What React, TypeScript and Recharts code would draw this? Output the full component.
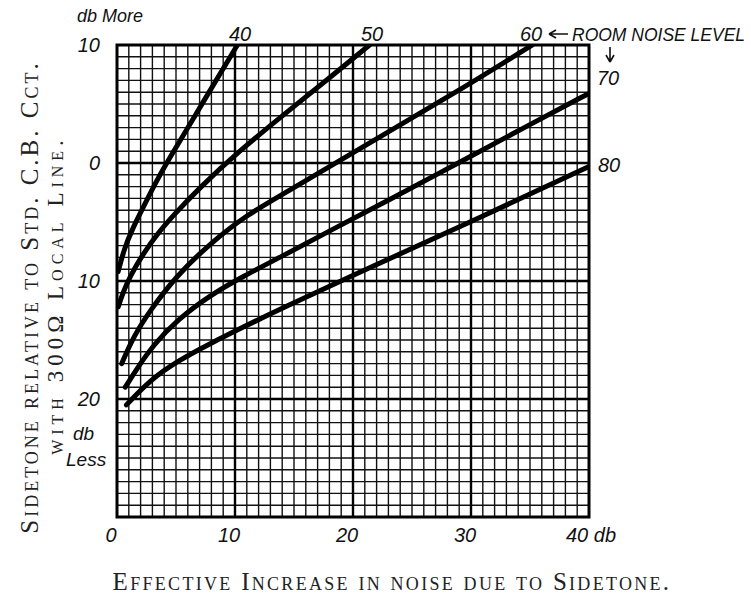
import { LineChart, Line, XAxis, YAxis, CartesianGrid, ReferenceLine, ReferenceArea } from 'recharts';

// grid every 1 db, labels only on the tens
const xGrid = Array.from({ length: 41 }, (_, i) => i);
const yGrid = Array.from({ length: 41 }, (_, i) => i - 30);
const xLabelled = [0, 10, 20, 30, 40];
const yLabelled = [10, 0, -10, -20];
const xMajor = [10, 20, 30];
const yMajor = [0, -10, -20];

// room noise level curves (x = effective increase, y = sidetone rel. std.)
const noise40 = [
  { x: 0.1, y: -9.2 }, { x: 0.6, y: -7.3 }, { x: 1.3, y: -5.6 }, { x: 2.2, y: -3.8 },
  { x: 3.2, y: -1.8 }, { x: 4.2, y: 0 }, { x: 5.6, y: 2.3 }, { x: 7.2, y: 5 },
  { x: 8.7, y: 7.5 }, { x: 10.2, y: 10 },
];
const noise50 = [
  { x: 0.1, y: -12.2 }, { x: 0.5, y: -11 }, { x: 1.1, y: -9.6 }, { x: 2.2, y: -7.7 },
  { x: 3.5, y: -5.9 }, { x: 4.8, y: -4.4 }, { x: 7, y: -2.1 }, { x: 10.1, y: 0.8 },
  { x: 14.5, y: 4.4 }, { x: 18, y: 7.2 }, { x: 21.4, y: 10 },
];
const noise60 = [
  { x: 0.4, y: -17 }, { x: 1.4, y: -14.7 }, { x: 2.8, y: -12.5 }, { x: 5, y: -9.6 },
  { x: 7.9, y: -6.8 }, { x: 11, y: -4.4 }, { x: 13.8, y: -2.8 }, { x: 21.4, y: 1.7 },
  { x: 29.1, y: 6.2 }, { x: 35.2, y: 10 },
];
const noise70 = [
  { x: 0.7, y: -19 }, { x: 1.7, y: -17.4 }, { x: 3.1, y: -15.4 }, { x: 5.1, y: -13.3 },
  { x: 7.9, y: -11.2 }, { x: 10.7, y: -9.6 }, { x: 13.8, y: -8 }, { x: 18.5, y: -5.5 },
  { x: 23.3, y: -3 }, { x: 29.1, y: 0.1 }, { x: 34.5, y: 3 }, { x: 40, y: 5.9 },
];
const noise80 = [
  { x: 0.8, y: -20.5 }, { x: 2.8, y: -18.4 }, { x: 5.1, y: -16.8 }, { x: 7.9, y: -15.3 },
  { x: 10.7, y: -13.9 }, { x: 13.8, y: -12.4 }, { x: 20, y: -9.5 }, { x: 29.1, y: -5.4 },
  { x: 40, y: -0.3 },
];
const curves = [noise40, noise50, noise60, noise70, noise80];

const hand = { fontFamily: '"Liberation Sans", Arial, sans-serif', fontStyle: 'italic' as const, fill: '#111' };
const serifCaps = { fontFamily: '"Liberation Serif", "Times New Roman", serif', fontVariant: 'small-caps' as const, fill: '#222' };

// eslint-disable-next-line @typescript-eslint/no-explicit-any
function XTick({ x, y, payload }: any) {
  const v = payload.value;
  if (!xLabelled.includes(v)) return <g />;
  if (v === 40) {
    return <text x={x - 23} y={y + 17} fontSize={20} {...hand}>40 db</text>;
  }
  return <text x={x - 6} y={y + 17} fontSize={20} textAnchor="middle" {...hand}>{v}</text>;
}

// eslint-disable-next-line @typescript-eslint/no-explicit-any
function YTick({ x, y, payload }: any) {
  const v = payload.value;
  if (!yLabelled.includes(v)) return <g />;
  return (
    <text x={x - 9} y={y + 7} fontSize={20} textAnchor="end" {...hand}>{Math.abs(v)}</text>
  );
}

export default function App() {
  return (
    <div style={{ position: 'absolute', left: 0, top: 0, width: 751, height: 599, background: '#fff' }}>
      <LineChart width={751} height={599} margin={{ top: 45, right: 162, bottom: 42, left: 67 }}>
        <CartesianGrid stroke="#111" strokeWidth={1.4} strokeOpacity={1} />
        <XAxis
          type="number" dataKey="x" domain={[0, 40]} ticks={xGrid} interval={0}
          axisLine={false} tickLine={false} height={40} tick={<XTick />} allowDataOverflow
        />
        <YAxis
          type="number" dataKey="y" domain={[-30, 10]} ticks={yGrid} interval={0}
          axisLine={false} tickLine={false} width={50} tick={<YTick />} allowDataOverflow
        />
        {xMajor.map(v => <ReferenceLine key={'x' + v} x={v} stroke="#000" strokeWidth={2.4} />)}
        {yMajor.map(v => <ReferenceLine key={'y' + v} y={v} stroke="#000" strokeWidth={2.4} />)}
        <ReferenceArea x1={0} x2={40} y1={-30} y2={10} fill="none" stroke="#000" strokeWidth={3} />
        {curves.map((c, i) => (
          <Line
            key={i} data={c} dataKey="y" type="basis" stroke="#000" strokeWidth={5}
            dot={false} isAnimationActive={false} strokeLinecap="round"
          />
        ))}
      </LineChart>

      <svg width={751} height={599} style={{ position: 'absolute', left: 0, top: 0, pointerEvents: 'none' }}>
        <text x={77} y={22} fontSize={18} {...hand}>db More</text>
        <text x={73} y={440} fontSize={19} {...hand}>db</text>
        <text x={66} y={466} fontSize={19} {...hand}>Less</text>

        <text x={240} y={41} fontSize={20} textAnchor="middle" {...hand}>40</text>
        <text x={372} y={41} fontSize={20} textAnchor="middle" {...hand}>50</text>
        <text x={520} y={41} fontSize={20} {...hand}>60</text>
        <path d="M549 34 L568 34 M549 34 L556 30 M549 34 L556 38" stroke="#111" strokeWidth={1.6} fill="none" />
        <text x={572} y={41} fontSize={17.5} {...hand}>ROOM NOISE LEVEL</text>
        <path d="M610 47 L610 62 M610 62 L606 55 M610 62 L614 55" stroke="#111" strokeWidth={1.6} fill="none" />
        <text x={597} y={85} fontSize={20} {...hand}>70</text>
        <text x={598} y={172} fontSize={20} {...hand}>80</text>

        <text transform="translate(38 297) rotate(-90)" fontSize={25} textAnchor="middle" letterSpacing={3} {...serifCaps}>
          Sidetone relative to Std. C.B. Cct.
        </text>
        <text transform="translate(63 295) rotate(-90)" fontSize={23} textAnchor="middle" letterSpacing={5} {...serifCaps}>
          with 300Ω Local Line.
        </text>
        <text x={392} y={590} fontSize={25} textAnchor="middle" letterSpacing={2.3} {...serifCaps}>
          Effective Increase in noise due to Sidetone.
        </text>
      </svg>
    </div>
  );
}
